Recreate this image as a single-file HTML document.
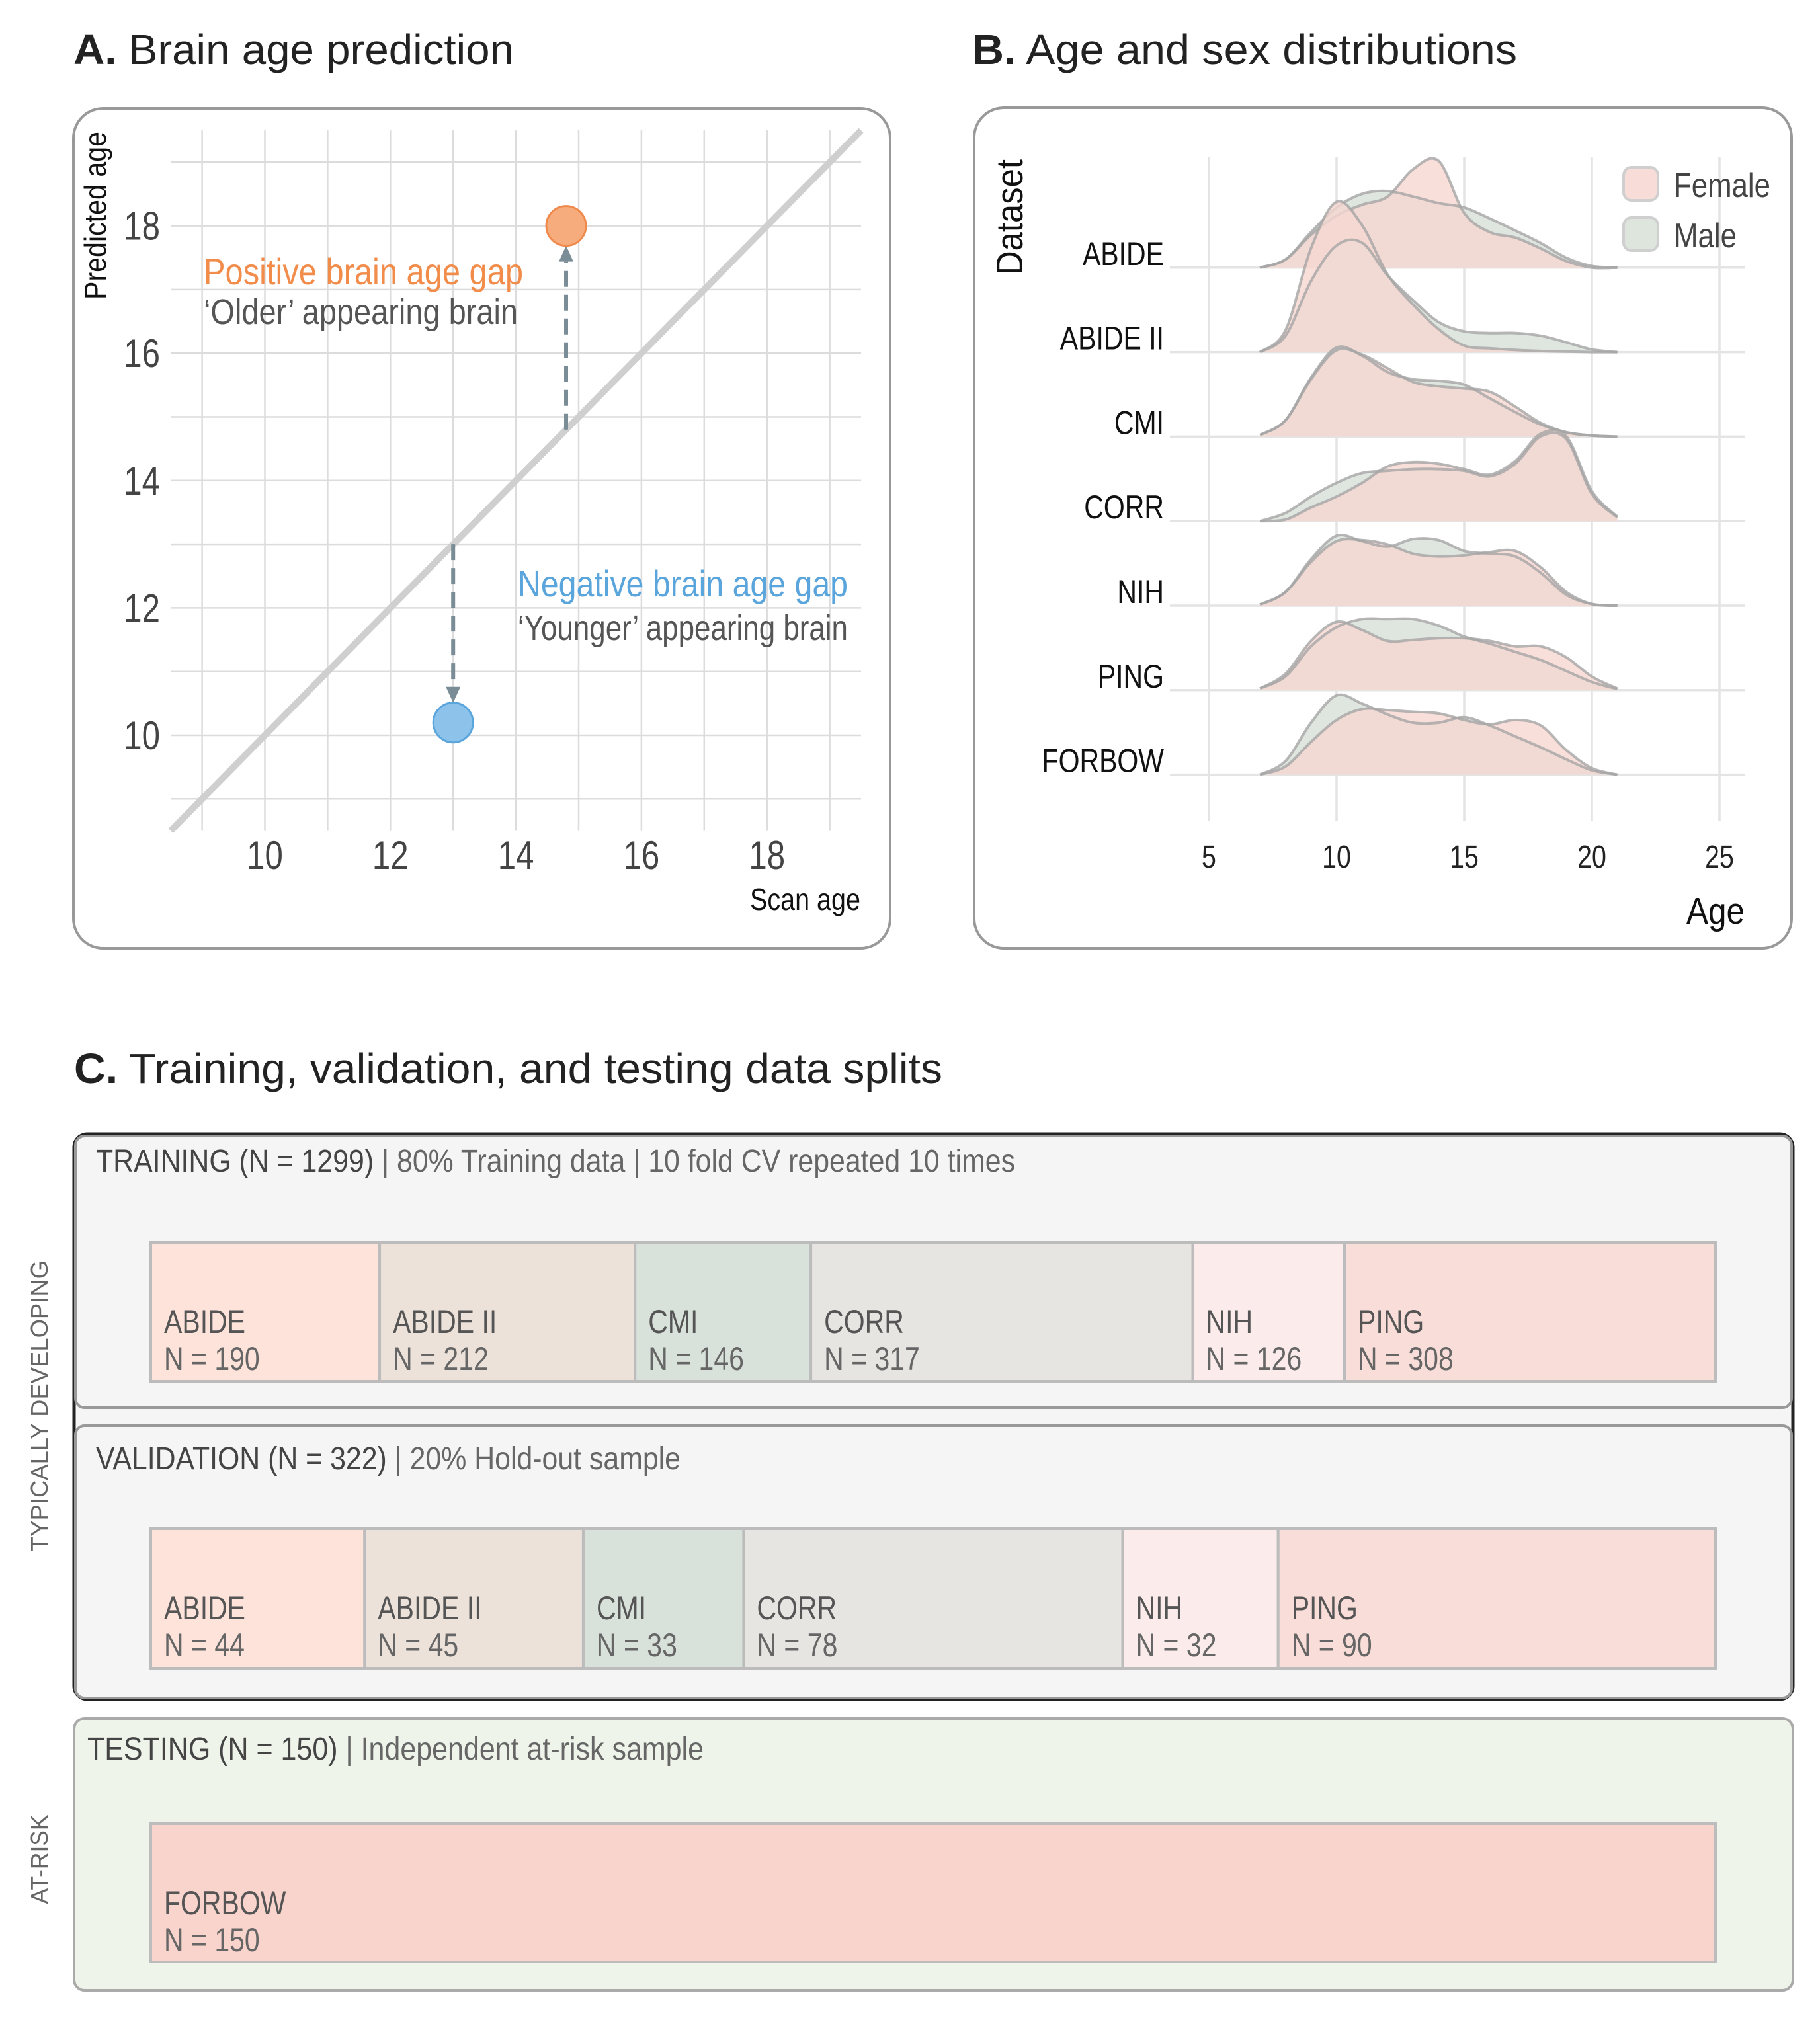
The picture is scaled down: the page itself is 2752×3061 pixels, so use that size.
<!DOCTYPE html>
<html><head><meta charset="utf-8">
<style>
html,body{margin:0;padding:0;background:#fff;}
svg{display:block;}
text{font-family:"Liberation Sans",sans-serif;}
</style></head>
<body>
<svg id="fig" xmlns="http://www.w3.org/2000/svg" width="2752" height="3061" viewBox="0 0 2752 3061">
  <rect x="0" y="0" width="2752" height="3061" fill="#fff"/>
  <!-- Titles -->
  <text x="111" y="97" font-size="64" fill="#222" textLength="666" lengthAdjust="spacingAndGlyphs"><tspan font-weight="bold">A.</tspan> Brain age prediction</text>
  <text x="1470" y="97" font-size="64" fill="#222" textLength="824" lengthAdjust="spacingAndGlyphs"><tspan font-weight="bold">B.</tspan> Age and sex distributions</text>
  <text x="112" y="1638" font-size="64" fill="#222" textLength="1313" lengthAdjust="spacingAndGlyphs"><tspan font-weight="bold">C.</tspan> Training, validation, and testing data splits</text>

  <!-- Panel boxes -->
  <rect x="111" y="164" width="1235" height="1270" rx="45" fill="#fff" stroke="#999" stroke-width="4"/>
  <rect x="1473" y="163" width="1236" height="1271" rx="45" fill="#fff" stroke="#999" stroke-width="4"/>

  <g id="gA"></g>
  <g id="gB"></g>

  <!-- Panel C boxes -->
  <rect x="112" y="1715" width="2599" height="855" rx="20" fill="#f4f5f4" stroke="#222" stroke-width="5"/>
  <rect x="114" y="1718" width="2595" height="411" rx="14" fill="#f4f5f4" stroke="#999" stroke-width="4"/>
  <rect x="114" y="2156" width="2595" height="412" rx="14" fill="#f4f5f4" stroke="#999" stroke-width="4"/>
  <rect x="112" y="2599" width="2599" height="411" rx="16" fill="#eef4ea" stroke="#aaa" stroke-width="4"/>

  <text x="145" y="1772" font-size="48" fill="#666" textLength="1390" lengthAdjust="spacingAndGlyphs"><tspan fill="#444">TRAINING (N = 1299)</tspan> | 80% Training data | 10 fold CV repeated 10 times</text>
  <text x="145" y="2222" font-size="48" fill="#666" textLength="884" lengthAdjust="spacingAndGlyphs"><tspan fill="#444">VALIDATION (N = 322)</tspan> | 20% Hold-out sample</text>
  <text x="132" y="2661" font-size="48" fill="#666" textLength="932" lengthAdjust="spacingAndGlyphs"><tspan fill="#444">TESTING (N = 150)</tspan> | Independent at-risk sample</text>

  <text transform="translate(72,2126) rotate(-90)" text-anchor="middle" font-size="36" fill="#666" textLength="440" lengthAdjust="spacingAndGlyphs">TYPICALLY DEVELOPING</text>
  <text transform="translate(72,2812) rotate(-90)" text-anchor="middle" font-size="36" fill="#666" textLength="135" lengthAdjust="spacingAndGlyphs">AT-RISK</text>

  <g id="gC"></g>
</svg>
<script>
// ---------- Panel A data ----------
const aTicks = [10, 12, 14, 16, 18];
const aGrid = [9, 10, 11, 12, 13, 14, 15, 16, 17, 18, 19];
const scanAge = [14.8, 13];
const predAge = [18, 10.2];
const pointNames = ['positive-gap-point', 'negative-gap-point'];

// ---------- Panel B data ----------
const bTicks = [5, 10, 15, 20, 25];
const ages = [7, 8, 9, 10, 11, 12, 13, 14, 15, 16, 17, 18, 19, 20, 21];
const datasets = ['ABIDE', 'ABIDE II', 'CMI', 'CORR', 'NIH', 'PING', 'FORBOW'];
const abideF   = [0, 15, 60, 95, 115, 130, 180, 195, 100, 65, 55, 35, 12, 0, 0];
const abideM   = [0, 15, 65, 110, 135, 140, 130, 118, 110, 90, 68, 45, 18, 3, 0];
const abide2F  = [0, 40, 190, 275, 232, 142, 87, 42, 12, 7, 4, 2, 1, 0, 0];
const abide2M  = [0, 30, 130, 195, 200, 140, 95, 55, 38, 35, 35, 30, 18, 5, 0];
const cmiF     = [3, 30, 105, 158, 150, 125, 100, 92, 88, 82, 55, 25, 8, 2, 0];
const cmiM     = [3, 30, 108, 163, 148, 118, 105, 102, 95, 70, 45, 22, 8, 2, 0];
const corrF    = [0, 3, 25, 45, 70, 100, 108, 105, 95, 85, 110, 160, 155, 55, 8];
const corrM    = [0, 15, 45, 70, 88, 92, 95, 95, 92, 82, 105, 155, 150, 50, 7];
const nihF     = [2, 25, 80, 118, 120, 112, 95, 90, 92, 98, 100, 70, 25, 3, 0];
const nihM     = [2, 25, 85, 128, 118, 108, 122, 120, 100, 95, 90, 60, 20, 3, 0];
const pingF    = [3, 30, 90, 125, 110, 90, 92, 95, 95, 90, 80, 80, 60, 25, 3];
const pingM    = [3, 25, 80, 115, 130, 130, 130, 118, 98, 85, 70, 55, 35, 15, 2];
const forbowF  = [0, 15, 60, 100, 120, 118, 115, 112, 100, 92, 100, 90, 45, 12, 0];
const forbowM  = [0, 25, 95, 145, 130, 110, 95, 95, 105, 90, 70, 50, 28, 8, 0];
const femaleSeries = [abideF, abide2F, cmiF, corrF, nihF, pingF, forbowF];
const maleSeries = [abideM, abide2M, cmiM, corrM, nihM, pingM, forbowM];

// ---------- Panel C data ----------
const splitNames = ['ABIDE', 'ABIDE II', 'CMI', 'CORR', 'NIH', 'PING'];
const trainN = [190, 212, 146, 317, 126, 308];
const valN = [44, 45, 33, 78, 32, 90];
const testNames = ['FORBOW'];
const testN = [150];

const NS = 'http://www.w3.org/2000/svg';
function mk(parent, tag, attrs, txt) {
  const el = document.createElementNS(NS, tag);
  for (const k in attrs) el.setAttribute(k, attrs[k]);
  if (txt !== undefined) el.textContent = txt;
  parent.appendChild(el);
  return el;
}
const COND = 0.82;

// ================= Panel A =================
const gA = document.getElementById('gA');
const xA = v => 400.5 + (v - 10) * 94.9;
const yA = v => 1112 - (v - 10) * 96.3;
const aMin = 8.5, aMax = 19.5;
aGrid.forEach(v => {
  const l1 = mk(gA, 'line', {x1: xA(v), x2: xA(v), y1: yA(aMax), y2: yA(aMin), stroke: '#dcdcdc', 'stroke-width': 2.5});
  
  
  const l2 = mk(gA, 'line', {x1: xA(aMin), x2: xA(aMax), y1: yA(v), y2: yA(v), stroke: '#dcdcdc', 'stroke-width': 2.5});
  
  
});
const diag = mk(gA, 'line', {x1: xA(aMin), y1: yA(aMin), x2: xA(aMax), y2: yA(aMax), stroke: '#cfcfcf', 'stroke-width': 10});


aTicks.forEach(v => {
  const t = mk(gA, 'text', {transform: `translate(${xA(v)},1314) scale(${COND},1)`, 'text-anchor': 'middle', 'font-size': 60, fill: '#444'}, String(v));
  
  
  const t2 = mk(gA, 'text', {transform: `translate(242,${yA(v) + 21}) scale(${COND},1)`, 'text-anchor': 'end', 'font-size': 60, fill: '#444'}, String(v));
  
  
});
const arrowCol = '#7a8c96';
const r = 30;
scanAge.forEach((sx, i) => {
  const py = predAge[i];
  const y0 = yA(sx), y1 = yA(py);
  const dir = y1 < y0 ? -1 : 1;
  const tipY = y1 - dir * r;
  const baseY = tipY - dir * 24;
  const ln = mk(gA, 'line', {x1: xA(sx), x2: xA(sx), y1: y0, y2: baseY, stroke: arrowCol, 'stroke-width': 6, 'stroke-dasharray': '24 12'});
  
  
  const hd = mk(gA, 'path', {d: `M${xA(sx) - 11},${baseY} L${xA(sx) + 11},${baseY} L${xA(sx)},${tipY} Z`, fill: arrowCol});
  
  
});
const ptFill = ['#f6ac7c', '#8dc3ea'];
const ptStroke = ['#f08a4c', '#5aa5dc'];
scanAge.forEach((sx, i) => {
  const c = mk(gA, 'circle', {cx: xA(sx), cy: yA(predAge[i]), r: r, fill: ptFill[i], stroke: ptStroke[i], 'stroke-width': 3});
  
  
});
function condText(parent, x, y, str, size, fill, anchor, len) {
  const attrs = {x: x, y: y, 'font-size': size, fill: fill, 'text-anchor': anchor || 'start'};
  if (len) { attrs.textLength = len; attrs.lengthAdjust = 'spacingAndGlyphs'; }
  return mk(parent, 'text', attrs, str);
}
let t;
t = condText(gA, 308, 430, 'Positive brain age gap', 56, '#f28c4b', 'start', 483);


t = condText(gA, 308, 490, '\u2018Older\u2019 appearing brain', 54, '#555', 'start', 475);


t = condText(gA, 783, 902, 'Negative brain age gap', 56, '#5aa5dc', 'start', 499);


t = condText(gA, 783, 968, '\u2018Younger\u2019 appearing brain', 54, '#555', 'start', 499);


t = condText(gA, 1301, 1376, 'Scan age', 46, '#111', 'end', 167);


t = mk(gA, 'text', {transform: 'translate(160,199) rotate(-90)', 'text-anchor': 'end', 'font-size': 46, fill: '#111', textLength: 254, lengthAdjust: 'spacingAndGlyphs'}, 'Predicted age');



// ================= Panel B =================
const gB = document.getElementById('gB');
const xB = v => 1828 + (v - 5) * 38.6;
const hB = d => d * 0.827;
const rowBase = i => 404.8 + i * 127.8;
bTicks.forEach(v => {
  const l = mk(gB, 'line', {x1: xB(v), x2: xB(v), y1: 237, y2: 1242, stroke: '#e4e4e4', 'stroke-width': 3.5});
  
  
  const tt = mk(gB, 'text', {transform: `translate(${xB(v)},1312) scale(${COND},1)`, 'text-anchor': 'middle', 'font-size': 48, fill: '#222'}, String(v));
  
  
});
datasets.forEach((name, i) => {
  const l = mk(gB, 'line', {x1: 1769, x2: 2638, y1: rowBase(i), y2: rowBase(i), stroke: '#e4e4e4', 'stroke-width': 3.5});
  
  
});
function smoothPath(xs, ys) {
  let d = `M${xs[0]},${ys[0]}`;
  for (let i = 0; i < xs.length - 1; i++) {
    const x0 = xs[Math.max(i - 1, 0)], y0 = ys[Math.max(i - 1, 0)];
    const x1 = xs[i], y1 = ys[i], x2 = xs[i + 1], y2 = ys[i + 1];
    const x3 = xs[Math.min(i + 2, xs.length - 1)], y3 = ys[Math.min(i + 2, xs.length - 1)];
    const c1x = x1 + (x2 - x0) / 6, c1y = y1 + (y2 - y0) / 6;
    const c2x = x2 - (x3 - x1) / 6, c2y = y2 - (y3 - y1) / 6;
    d += ` C${c1x.toFixed(1)},${c1y.toFixed(1)} ${c2x.toFixed(1)},${c2y.toFixed(1)} ${x2.toFixed(1)},${y2.toFixed(1)}`;
  }
  return d;
}
function ridge(vals, base) {
  const xs = ages.map(xB);
  const ys = vals.map(v => base - hB(v));
  return smoothPath(xs, ys);
}
datasets.forEach((name, i) => {
  const base = rowBase(i);
  const mPath = ridge(maleSeries[i], base);
  const fPath = ridge(femaleSeries[i], base);
  const mA = mk(gB, 'path', {d: mPath + ` L${xB(ages[ages.length - 1])},${base} L${xB(ages[0])},${base} Z`, fill: '#dfe6df', stroke: 'none'});
  
  
  const fA = mk(gB, 'path', {d: fPath + ` L${xB(ages[ages.length - 1])},${base} L${xB(ages[0])},${base} Z`, fill: 'rgba(246,215,209,0.8)', stroke: 'none'});
  
  
  const mL = mk(gB, 'path', {d: mPath, fill: 'none', stroke: 'rgba(165,165,165,0.8)', 'stroke-width': 4});
  
  
  const fL = mk(gB, 'path', {d: fPath, fill: 'none', stroke: 'rgba(165,165,165,0.8)', 'stroke-width': 4});
  
  
  const lb = mk(gB, 'text', {transform: `translate(1760,${base - 4}) scale(${COND},1)`, 'text-anchor': 'end', 'font-size': 50, fill: '#111'}, name);
  
  
});
t = mk(gB, 'text', {x: 2638, y: 1397, 'text-anchor': 'end', 'font-size': 57, fill: '#111', textLength: 88, lengthAdjust: 'spacingAndGlyphs'}, 'Age');


t = mk(gB, 'text', {transform: 'translate(1546,241) rotate(-90)', 'text-anchor': 'end', 'font-size': 57, fill: '#111', textLength: 175, lengthAdjust: 'spacingAndGlyphs'}, 'Dataset');


const legFill = ['#f8dcd7', '#dde5dd'];
const legText = ['Female', 'Male'];
const legLen = [146, 95];
legText.forEach((s, i) => {
  const y = 253 + i * 76;
  const b = mk(gB, 'rect', {x: 2455, y: y, width: 52, height: 50, rx: 12, fill: legFill[i], stroke: '#cfcfcf', 'stroke-width': 4});
  
  
  const tx = mk(gB, 'text', {x: 2531, y: y + 45, 'font-size': 52, fill: '#444', textLength: legLen[i], lengthAdjust: 'spacingAndGlyphs'}, s);
  
  
});

// ================= Panel C =================
const gC = document.getElementById('gC');
const colors = {'ABIDE': '#fde3da', 'ABIDE II': '#ede2da', 'CMI': '#d8e2db', 'CORR': '#e7e5e2', 'NIH': '#fbeceb', 'PING': '#f9ddd8', 'FORBOW': '#f9d4cd'};
const barLeft = 228, barRight = 2594;
function drawSplit(names, counts, top, h, prefix) {
  const total = counts.reduce((a, b) => a + b, 0);
  const sc = (barRight - barLeft) / total;
  let x = barLeft;
  names.forEach((n, i) => {
    const w = counts[i] * sc;
    const rc = mk(gC, 'rect', {x: x, y: top, width: w, height: h, fill: colors[n], stroke: '#bcbcbc', 'stroke-width': 4});
    
    
    const t1 = mk(gC, 'text', {transform: `translate(${x + 20},${top + 137}) scale(${COND},1)`, 'font-size': 50, fill: '#555'}, n);
    
    
    const t2 = mk(gC, 'text', {transform: `translate(${x + 20},${top + 193}) scale(${COND},1)`, 'font-size': 50, fill: '#666'}, 'N = ' + counts[i]);
    
    
    x += w;
  });
}
drawSplit(splitNames, trainN, 1879, 210, 'training');
drawSplit(splitNames, valN, 2312, 211, 'validation');
drawSplit(testNames, testN, 2758, 209, 'testing');
</script>
</body></html>
